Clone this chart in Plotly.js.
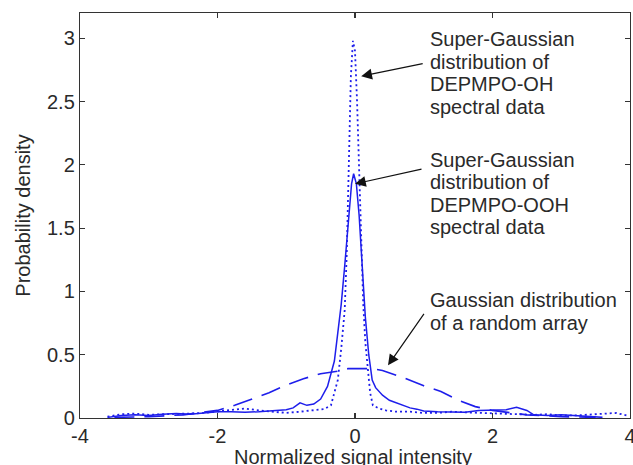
<!DOCTYPE html>
<html>
<head>
<meta charset="utf-8">
<script src="https://cdn.plot.ly/plotly-3.0.1.min.js"></script>
<style>html,body{margin:0;padding:0;background:#fff;}#chart{width:633px;height:465px;}</style>
</head>
<body>
<div id="chart"></div>
<script>
// Gaussian distribution of a random array (dashed)
const gaussX = [-3.5,-3.0,-2.5,-2.0,-1.75,-1.5,-1.25,-1.0,-0.75,-0.5,-0.25,-0.1,0.25,0.4,0.7,1.0,1.25,1.5,1.75,2.0,2.5,3.0,3.5];
const gaussY = [0.005,0.01,0.025,0.06,0.1,0.15,0.2,0.26,0.31,0.35,0.37,0.39,0.39,0.375,0.32,0.255,0.21,0.14,0.09,0.06,0.025,0.01,0.005];

// Super-Gaussian distribution of DEPMPO-OOH spectral data (solid)
const oohX = [-3.6,-3.4,-3.2,-3.0,-2.8,-2.6,-2.4,-2.2,-2.0,-1.8,-1.6,-1.4,-1.2,-1.0,-0.9,-0.8,-0.7,-0.6,-0.5,-0.4,-0.3,-0.2,-0.15,-0.1,-0.05,-0.02,0.02,0.06,0.1,0.15,0.2,0.25,0.3,0.4,0.5,0.65,0.8,0.9,1.0,1.2,1.4,1.6,1.8,2.0,2.2,2.35,2.5,2.6,2.8,3.0,3.2,3.4,3.6];
const oohY = [0.005,0.02,0.025,0.02,0.03,0.035,0.03,0.04,0.05,0.05,0.045,0.05,0.06,0.065,0.08,0.12,0.1,0.11,0.15,0.25,0.45,0.9,1.2,1.55,1.85,1.93,1.85,1.6,1.2,0.8,0.5,0.3,0.24,0.18,0.14,0.11,0.08,0.07,0.055,0.05,0.05,0.045,0.06,0.06,0.065,0.085,0.06,0.025,0.02,0.025,0.02,0.015,0.005];

// Super-Gaussian distribution of DEPMPO-OH spectral data (dotted)
const ohX = [-3.6,-3.4,-3.2,-3.0,-2.8,-2.6,-2.4,-2.2,-2.0,-1.8,-1.6,-1.4,-1.2,-1.0,-0.8,-0.6,-0.45,-0.35,-0.3,-0.25,-0.2,-0.15,-0.12,-0.09,-0.06,-0.03,0.0,0.03,0.06,0.09,0.12,0.15,0.19,0.22,0.26,0.35,0.45,0.6,0.8,1.0,1.2,1.4,1.6,1.8,2.0,2.2,2.4,2.6,2.8,3.0,3.2,3.4,3.6,3.8,3.95];
const ohY = [0.01,0.03,0.035,0.025,0.03,0.03,0.035,0.04,0.05,0.06,0.075,0.06,0.05,0.04,0.05,0.06,0.07,0.1,0.2,0.3,0.55,0.85,1.3,2.0,2.7,2.98,2.9,2.5,1.9,1.3,0.9,0.6,0.38,0.2,0.1,0.075,0.06,0.05,0.05,0.04,0.04,0.05,0.045,0.04,0.04,0.035,0.03,0.025,0.03,0.02,0.02,0.025,0.03,0.04,0.02];

const xTickVals = [-4,-2,0,2,4];
const xTickText = ["-4","-2","0","2","4"];
const yTickVals = [0,0.5,1,1.5,2,2.5,3];
const yTickText = ["0","0.5","1","1.5","2","2.5","3"];

const xTitle = "Normalized signal intensity";
const yTitle = "Probability density";
const ann1Lines = ["Super-Gaussian","distribution of","DEPMPO-OH","spectral data"];
const ann2Lines = ["Super-Gaussian","distribution of","DEPMPO-OOH","spectral data"];
const ann3Lines = ["Gaussian distribution","of a random array"];

const BLUE = "rgb(30,30,235)";
const FONT = "Liberation Sans, Arial, Helvetica, sans-serif";
const TXT = "#2a2a2a";

const traces = [
  {x: gaussX, y: gaussY, mode: "lines", line: {color: BLUE, width: 1.6, dash: "20px,10px"}, hoverinfo: "skip"},
  {x: oohX, y: oohY, mode: "lines", line: {color: BLUE, width: 1.5}, hoverinfo: "skip"},
  {x: ohX, y: ohY, mode: "lines", line: {color: BLUE, width: 1.8, dash: "2px,3px"}, hoverinfo: "skip"}
];

// pixel -> paper helpers (plot area: x 80..630, y 13..418)
const L = 80, R = 3, T = 13, B = 47, W = 633, H = 465;
const px = v => (v - L) / (W - L - R);
const py = v => (H - B - v) / (H - T - B);

const annotations = [];
function addLines(lines, ys) {
  lines.forEach((t, i) => {
    annotations.push({text: t, xref: "paper", yref: "paper", x: px(428), y: py(ys[i]),
      xanchor: "left", yanchor: "middle", showarrow: false, font: {family: FONT, size: 20, color: TXT}});
  });
}
addLines(ann1Lines, [39, 62, 84, 107]);
addLines(ann2Lines, [160, 182, 205, 227]);
addLines(ann3Lines, [300, 323]);

// x-axis title placed as paper annotation so it can sit as low as in the reference
annotations.push({text: xTitle, xref: "paper", yref: "paper", x: px(353), y: py(457),
  xanchor: "center", yanchor: "middle", showarrow: false, font: {family: FONT, size: 20, color: TXT}});

function addArrow(hx, hy, ax, ay) {
  annotations.push({text: "", xref: "x", yref: "y", x: hx, y: hy, ax: ax, ay: ay,
    showarrow: true, arrowhead: 2, arrowsize: 1.8, arrowwidth: 1.2, arrowcolor: "#111", standoff: 0});
}
addArrow(0.09, 2.70, 63, -13);
addArrow(0.0, 1.85, 68, -15);
addArrow(0.48, 0.416, 37, -53);

const axisCommon = {
  showgrid: false, zeroline: false, showline: true, linecolor: "#333", linewidth: 1.2,
  mirror: "ticks", ticks: "inside", ticklen: 5, tickcolor: "#333", tickwidth: 1.2,
  ticklabeloverflow: "allow",
  tickfont: {family: FONT, size: 20, color: TXT}, fixedrange: true
};

const layout = {
  width: W, height: H,
  margin: {l: L, r: R, t: T, b: B},
  paper_bgcolor: "#fff", plot_bgcolor: "#fff",
  showlegend: false,
  xaxis: Object.assign({}, axisCommon, {range: [-4, 4], tickvals: xTickVals, ticktext: xTickText}),
  yaxis: Object.assign({}, axisCommon, {range: [0, 3.2], tickvals: yTickVals, ticktext: yTickText,
    title: {text: yTitle, font: {family: FONT, size: 20, color: TXT}, standoff: 11}}),
  annotations: annotations
};

Plotly.newPlot("chart", traces, layout, {displayModeBar: false, staticPlot: true});
</script>
</body>
</html>
